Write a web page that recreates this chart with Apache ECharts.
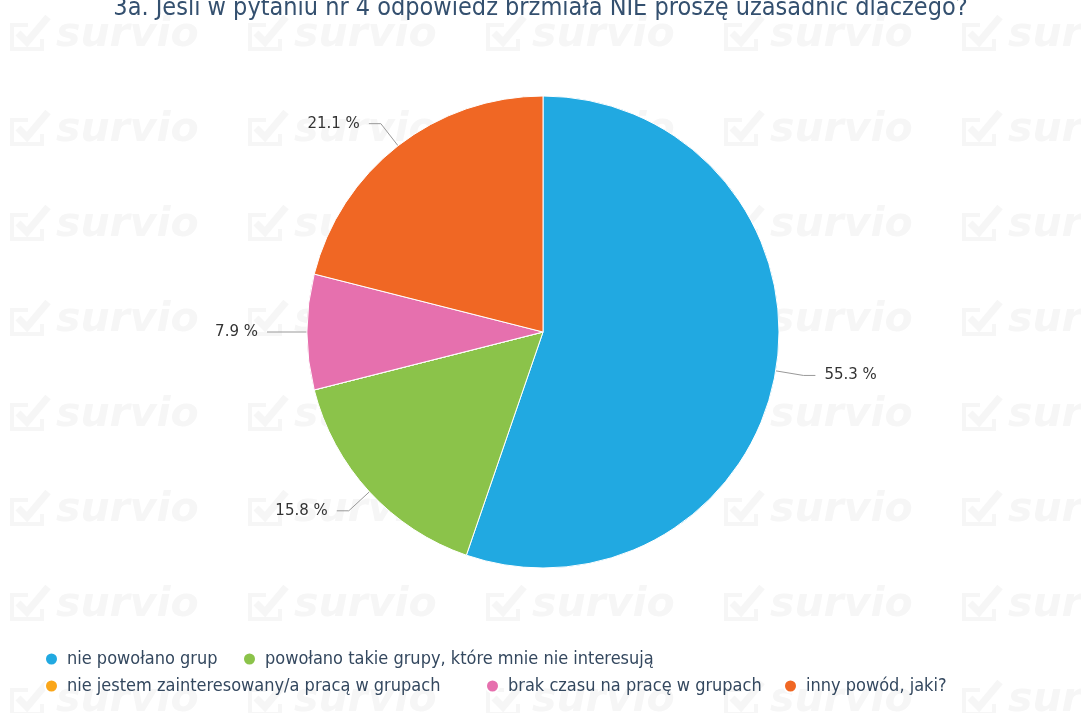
<!DOCTYPE html>
<html>
<head>
<meta charset="utf-8">
<script src="https://cdn.jsdelivr.net/npm/echarts@6/dist/echarts.min.js"></script>
<style>
html,body{margin:0;padding:0;background:#fff;}
#chart{width:1081px;height:713px;}
</style>
</head>
<body>
<div id="chart"></div>
<script>
var titleText = '3a. Jeśli w pytaniu nr 4 odpowiedź brzmiała NIE proszę uzasadnić dlaczego?';
var categories = [
  'nie powołano grup',
  'powołano takie grupy, które mnie nie interesują',
  'nie jestem zainteresowany/a pracą w grupach',
  'brak czasu na pracę w grupach',
  'inny powód, jaki?'
];
var counts = [21, 6, 0, 3, 8];
var colors = ['#21a9e1', '#8bc34a', '#faa61a', '#e670ae', '#f06724'];

var total = counts.reduce(function(a, b){ return a + b; }, 0);
var pieData = categories.map(function(name, i){
  var item = { name: name, value: counts[i], itemStyle: { color: colors[i] } };
  if (counts[i] === 0) {
    item.label = { show: false };
    item.labelLine = { show: false };
  }
  return item;
});

// legend item positions [left, top]
var legendPos = [[39, 645], [237, 645], [39, 672], [480, 672], [778, 672]];
var legends = categories.map(function(name, i){
  return {
    data: [name],
    left: legendPos[i][0],
    top: legendPos[i][1],
    icon: 'circle',
    itemWidth: 13,
    itemHeight: 13,
    selectedMode: false,
    textStyle: {
      fontFamily: 'DejaVu Sans Condensed',
      fontSize: 18,
      color: '#34485f',
      padding: [0, 0, 0, 4]
    }
  };
});

// faint watermark tiles
var wm = [];
var cols = [10, 248, 486, 724, 962];
var rows = [35, 130, 225, 320, 415, 510, 605, 700];
cols.forEach(function(x){
  rows.forEach(function(y){
    wm.push({
      type: 'polyline', silent: true, z: -10,
      shape: { points: [[x + 18, y - 10], [x + 2, y - 10], [x + 2, y + 14], [x + 32, y + 14], [x + 32, y + 4]] },
      style: { stroke: '#f6f6f6', lineWidth: 4, fill: null }
    });
    wm.push({
      type: 'polyline', silent: true, z: -10,
      shape: { points: [[x + 8, y - 2], [x + 17, y + 7], [x + 38, y - 18]] },
      style: { stroke: '#f6f6f6', lineWidth: 7, fill: null }
    });
    wm.push({
      type: 'text', silent: true, z: -10,
      x: x + 46, y: y,
      style: {
        text: 'survio',
        font: 'italic bold 41px "DejaVu Sans"',
        fill: '#f6f6f6',
        verticalAlign: 'middle'
      }
    });
  });
});

var chart = echarts.init(document.getElementById('chart'));
chart.setOption({
  backgroundColor: '#ffffff',
  animation: false,
  graphic: wm,
  title: {
    text: titleText,
    left: 'center',
    top: -9,
    textStyle: {
      fontFamily: 'DejaVu Sans Condensed',
      fontSize: 25,
      fontWeight: 'normal',
      color: '#34506f'
    }
  },
  legend: legends,
  series: [{
    type: 'pie',
    center: [543, 332],
    radius: 236,
    startAngle: 90,
    clockwise: true,
    avoidLabelOverlap: false,
    data: pieData,
    itemStyle: { borderColor: '#ffffff', borderWidth: 1 },
    label: {
      formatter: function(p){ return (p.value / total * 100).toFixed(1) + ' %'; },
      fontFamily: 'DejaVu Sans',
      fontSize: 15,
      color: '#333333',
      padding: [5, 0, 0, 0],
      distanceToLabelLine: 9
    },
    labelLine: {
      length: 28,
      length2: 12,
      lineStyle: { color: '#999999', width: 1 }
    },
    emphasis: { disabled: true }
  }]
});
</script>
</body>
</html>
